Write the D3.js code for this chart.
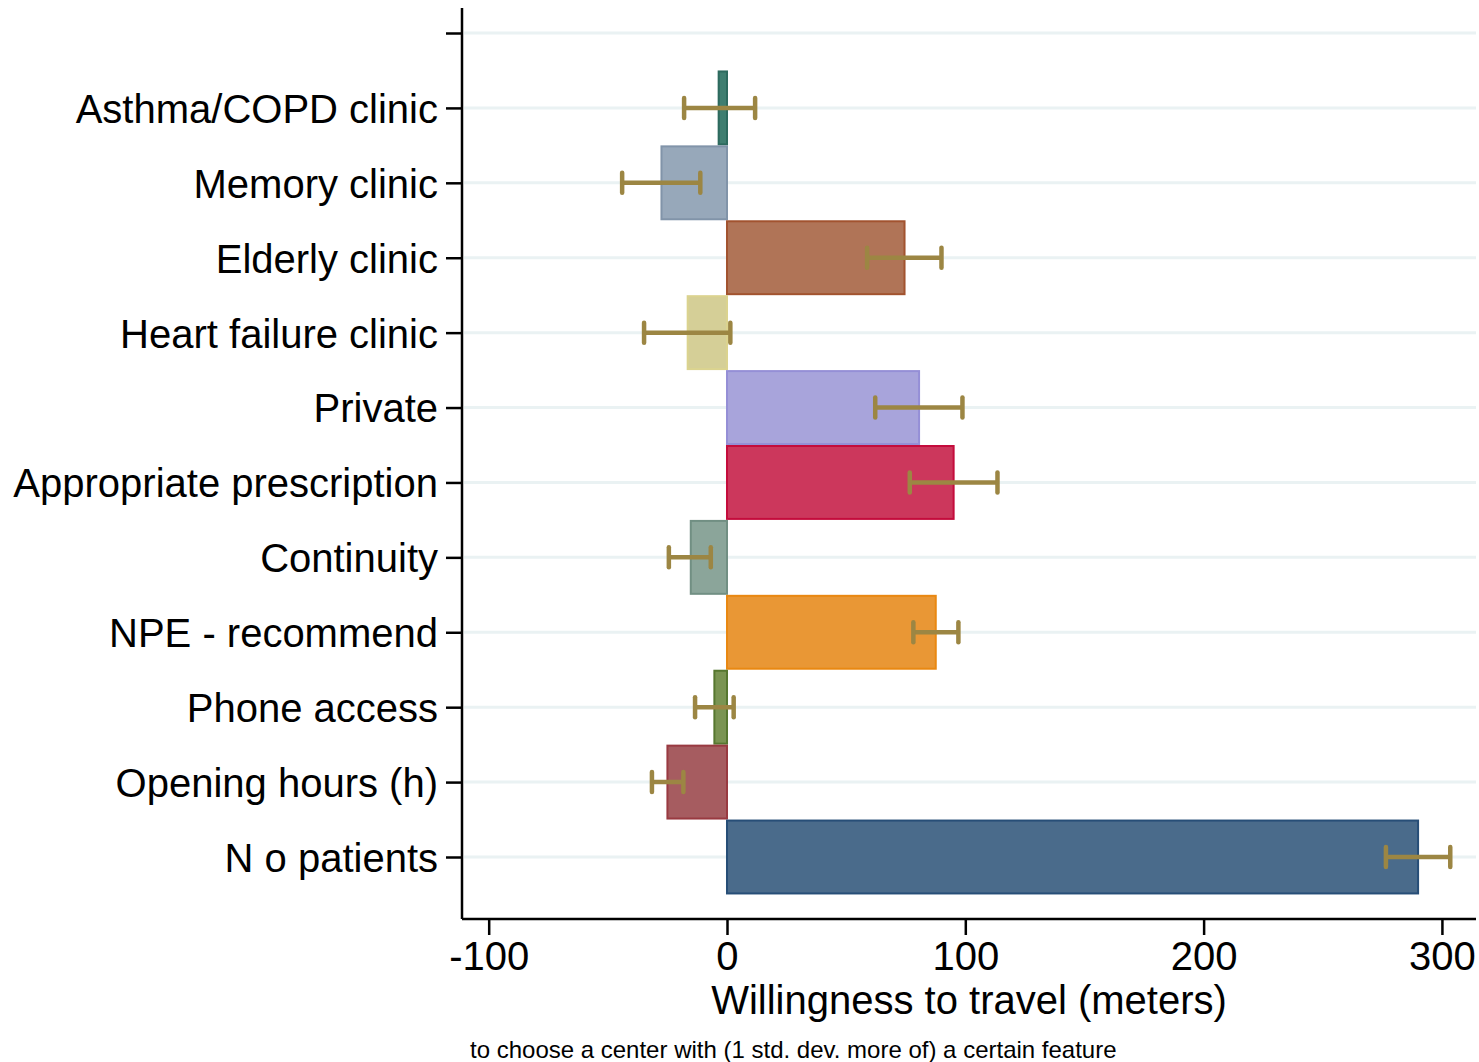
<!DOCTYPE html>
<html>
<head>
<meta charset="utf-8">
<script src="https://cdn.jsdelivr.net/npm/d3@7"></script>
<style>
  body { margin: 0; background: #fff; }
  svg { display: block; font-family: Arial, "Liberation Sans", sans-serif; }
</style>
</head>
<body>
<svg id="chart" width="1479" height="1062"></svg>
<script>
// estimates
const categories = ['Asthma/COPD clinic', 'Memory clinic', 'Elderly clinic', 'Heart failure clinic',
  'Private', 'Appropriate prescription', 'Continuity', 'NPE - recommend', 'Phone access',
  'Opening hours (h)', 'N o patients'];
const means  = [-3.5, -27.5, 74.5, -16.5, 80.6, 95.1, -15.2, 87.6, -5.3, -25, 290];
const ciLow  = [-18, -44, 58.8, -34.8, 62.2, 76.7, -24.4, 78.2, -13.4, -31.5, 276.5];
const ciHigh = [11.8, -11.2, 90, 1.4, 98.8, 113.5, -6.8, 97.1, 2.8, -18.3, 303.5];
const fills   = ['#3f7e70', '#97a8ba', '#b07457', '#d5cf97', '#a8a4db', '#cc375c',
  '#8ba59a', '#e99735', '#7a9452', '#a65c60', '#4a6b8b'];
const strokes = ['#2d6a5e', '#8194a9', '#a2532f', '#dbd38f', '#958fd6', '#c40c3c',
  '#718f83', '#e98812', '#56772f', '#993a41', '#274e77'];
const xTicks = [-100, 0, 100, 200, 300];

const data = categories.map((c, i) => ({ cat: c, mean: means[i], lo: ciLow[i], hi: ciHigh[i], fill: fills[i], stroke: strokes[i] }));

const svg = d3.select('#chart');
const plotLeft = 462, plotRight = 1476, plotTop = 8, plotBottom = 919;

const xScale = d3.scaleLinear().domain([-111.2, 314.3]).range([plotLeft, plotRight]);
// blank slot at the top, like the original
const yScale = d3.scalePoint().domain([''].concat(categories)).range([33, 857]);
const step = yScale.step();

// gridlines
svg.append('g')
  .selectAll('line')
  .data(yScale.domain())
  .enter()
  .append('line')
  .attr('x1', plotLeft + 2)
  .attr('x2', plotRight)
  .attr('y1', d => yScale(d))
  .attr('y2', d => yScale(d))
  .attr('stroke', '#eaf2f3')
  .attr('stroke-width', 3);

// bars
svg.append('g')
  .selectAll('rect')
  .data(data)
  .enter()
  .append('rect')
  .attr('x', d => xScale(Math.min(0, d.mean)))
  .attr('width', d => Math.abs(xScale(d.mean) - xScale(0)))
  .attr('y', d => yScale(d.cat) - step / 2 + 1)
  .attr('height', step - 2)
  .attr('fill', d => d.fill)
  .attr('stroke', d => d.stroke)
  .attr('stroke-width', 2);

// error bars
const err = svg.append('g')
  .selectAll('g')
  .data(data)
  .enter()
  .append('g')
  .attr('stroke', '#9c8643')
  .attr('stroke-width', 4.5);

err.append('line')
  .attr('x1', d => xScale(d.lo))
  .attr('x2', d => xScale(d.hi))
  .attr('y1', d => yScale(d.cat))
  .attr('y2', d => yScale(d.cat));

['lo', 'hi'].forEach(k => {
  err.append('line')
    .attr('stroke-linecap', 'round')
    .attr('x1', d => xScale(d[k]))
    .attr('x2', d => xScale(d[k]))
    .attr('y1', d => yScale(d.cat) - 10)
    .attr('y2', d => yScale(d.cat) + 10);
});

// y axis
const yAxis = svg.append('g')
  .attr('transform', 'translate(' + plotLeft + ',0)')
  .call(d3.axisLeft(yScale).tickSize(16).tickPadding(8));
yAxis.select('.domain').attr('d', 'M0,' + plotTop + 'V' + plotBottom);

// x axis
const xAxis = svg.append('g')
  .attr('transform', 'translate(0,' + plotBottom + ')')
  .call(d3.axisBottom(xScale).tickValues(xTicks).tickSize(16).tickPadding(8).tickFormat(d => String(d)));
xAxis.select('.domain').attr('d', 'M' + plotLeft + ',0H' + plotRight);

svg.selectAll('.domain').attr('stroke', '#000').attr('stroke-width', 2.5);
svg.selectAll('.tick line').attr('stroke', '#000').attr('stroke-width', 2.5);
svg.selectAll('.tick text')
  .attr('font-size', 40)
  .attr('font-family', 'Arial, "Liberation Sans", sans-serif')
  .attr('fill', '#000');
yAxis.selectAll('.tick text').attr('dy', '0.36em');
xAxis.selectAll('.tick text').attr('dy', '0.72em').attr('y', 22);

svg.append('text')
  .attr('x', (plotLeft + plotRight) / 2)
  .attr('y', 1014)
  .attr('text-anchor', 'middle')
  .attr('font-size', 40)
  .text('Willingness to travel (meters)');

svg.append('text')
  .attr('x', 470)
  .attr('y', 1058)
  .attr('font-size', 24)
  .text('to choose a center with (1 std. dev. more of) a certain feature');
</script>
</body>
</html>
